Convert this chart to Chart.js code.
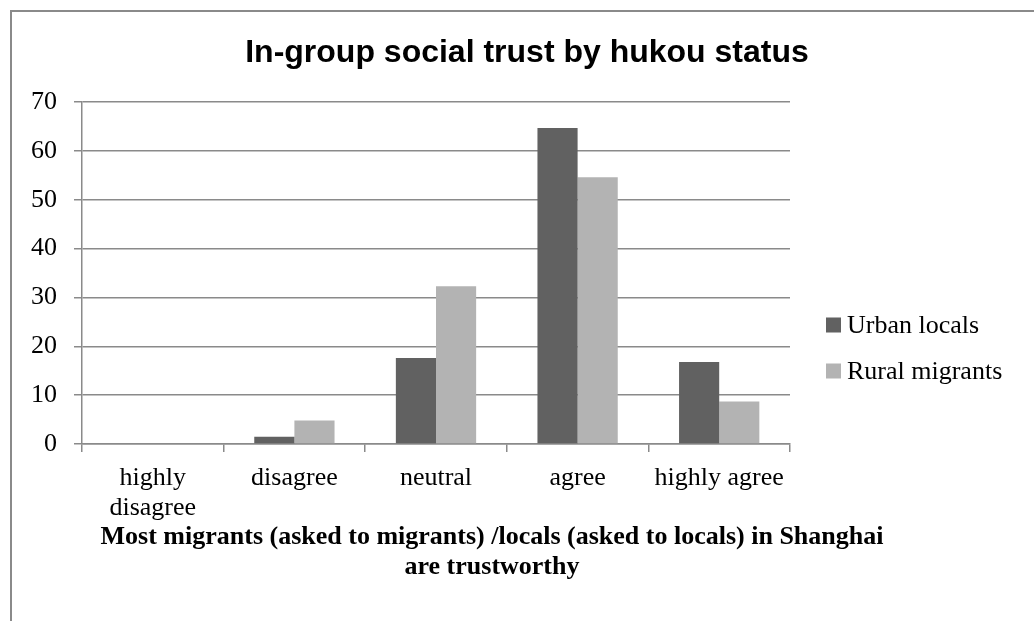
<!DOCTYPE html>
<html>
<head>
<meta charset="utf-8">
<title>In-group social trust by hukou status</title>
<script src="https://cdn.jsdelivr.net/npm/chart.js"></script>
<style>
  html, body { margin: 0; padding: 0; background: #fff; }
  #wrap { position: relative; width: 1034px; height: 621px; }
</style>
</head>
<body>
<div id="wrap"><canvas id="trustChart" width="1034" height="621"></canvas></div>
<script>
const categories = [['highly', 'disagree'], 'disagree', 'neutral', 'agree', 'highly agree'];
const seriesNames = ['Urban locals', 'Rural migrants'];
const urbanLocals = [0, 1.5, 17.6, 64.7, 16.8];
const ruralMigrants = [0, 4.8, 32.3, 54.6, 8.7];
const yTicks = [0, 10, 20, 30, 40, 50, 60, 70];
const chartTitle = 'In-group social trust by hukou status';
const axisTitle = ['Most migrants (asked to migrants) /locals (asked to locals) in Shanghai', 'are trustworthy'];

const seriesColors = ['#616161', '#b3b3b3'];
const lineGrey = '#8a8a8a';
const serif = '"Liberation Serif", "Times New Roman", serif';

// frame, headings and legend drawn straight onto the canvas
const decor = {
  id: 'decor',
  beforeDraw(chart) {
    const ctx = chart.ctx;
    ctx.save();
    ctx.fillStyle = '#fff';
    ctx.fillRect(0, 0, chart.width, chart.height);
    ctx.strokeStyle = lineGrey;
    ctx.lineWidth = 2;
    ctx.beginPath();
    ctx.moveTo(11, chart.height);
    ctx.lineTo(11, 11);
    ctx.lineTo(chart.width, 11);
    ctx.stroke();
    ctx.restore();
  },
  afterDraw(chart) {
    const ctx = chart.ctx;
    ctx.save();
    ctx.fillStyle = '#000';
    ctx.textAlign = 'center';
    ctx.textBaseline = 'alphabetic';
    ctx.font = 'bold 32px "Liberation Sans", Arial, sans-serif';
    ctx.fillText(chartTitle, 527, 62);

    ctx.font = 'bold 26px ' + serif;
    axisTitle.forEach((line, i) => ctx.fillText(line, 492, 544 + i * 30));

    ctx.textAlign = 'left';
    ctx.textBaseline = 'middle';
    ctx.font = '26px ' + serif;
    chart.data.datasets.forEach((ds, i) => {
      const y = 325 + i * 46;
      ctx.fillStyle = ds.backgroundColor;
      ctx.fillRect(826, y - 7.5, 15, 15);
      ctx.fillStyle = '#000';
      ctx.fillText(ds.label, 847, y + 1);
    });
    ctx.restore();
  }
};

new Chart(document.getElementById('trustChart'), {
  type: 'bar',
  data: {
    labels: categories,
    datasets: [
      { label: seriesNames[0], data: urbanLocals, backgroundColor: seriesColors[0] },
      { label: seriesNames[1], data: ruralMigrants, backgroundColor: seriesColors[1] }
    ]
  },
  options: {
    responsive: false,
    animation: false,
    events: [],
    layout: { padding: { top: 102, right: 244, left: 0, bottom: 0 } },
    datasets: {
      bar: { categoryPercentage: 0.567, barPercentage: 1.0, borderWidth: 0 }
    },
    plugins: {
      legend: { display: false },
      title: { display: false },
      tooltip: { enabled: false }
    },
    scales: {
      x: {
        grid: { drawOnChartArea: false, color: lineGrey, lineWidth: 1.5, tickLength: 8, offset: true },
        border: { color: lineGrey, width: 1.5 },
        ticks: {
          color: '#000',
          font: { family: serif, size: 26, lineHeight: 1.12 },
          padding: 12,
          maxRotation: 0,
          autoSkip: false
        },
        afterFit(scale) { scale.height = 177; }
      },
      y: {
        min: 0,
        max: 70,
        afterBuildTicks(scale) { scale.ticks = yTicks.map(v => ({ value: v })); },
        grid: { color: lineGrey, lineWidth: 1.5, tickLength: 8 },
        border: { color: lineGrey, width: 1.5 },
        ticks: {
          color: '#000',
          font: { family: serif, size: 26 },
          padding: 17
        },
        afterFit(scale) { scale.width = 82; }
      }
    }
  },
  plugins: [decor]
});
</script>
</body>
</html>
